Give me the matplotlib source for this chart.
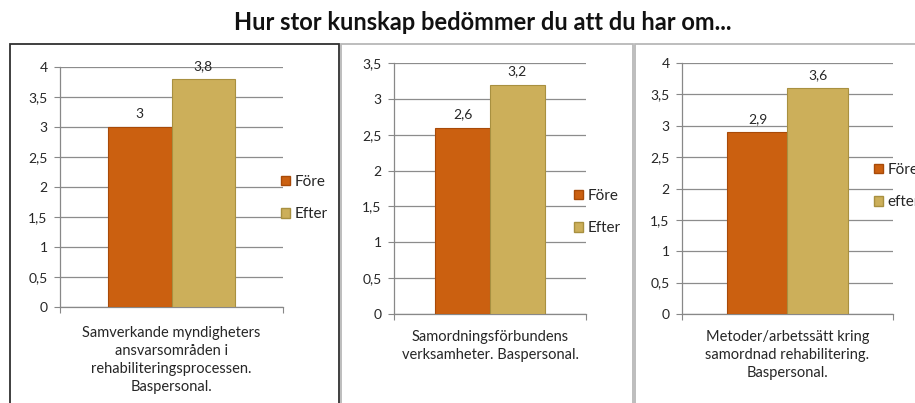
import matplotlib
matplotlib.use("Agg")
import matplotlib.pyplot as plt
from matplotlib.patches import Rectangle, Patch
from matplotlib.ticker import MultipleLocator, FuncFormatter

plt.rcParams["font.family"] = ["Lato", "DejaVu Sans"]

title = "Hur stor kunskap bedömmer du att du har om..."
categories = [
    "Samverkande myndigheters\nansvarsområden i\nrehabiliteringsprocessen.\nBaspersonal.",
    "Samordningsförbundens\nverksamheter. Baspersonal.",
    "Metoder/arbetssätt kring\nsamordnad rehabilitering.\nBaspersonal.",
]
fore = [3, 2.6, 2.9]
efter = [3.8, 3.2, 3.6]
y_max = [4, 3.5, 4]
legend_labels = [["Före", "Efter"], ["Före", "Efter"], ["Före", "efter"]]

W, H = 915, 403
FORE_COLOR = "#CB6010"
EFTER_COLOR = "#CCAF5A"
TEXT = "#262626"


def fx(px):
    return px / W


def fy(py):
    return 1 - py / H


def comma(v, pos):
    return ("%g" % v).replace(".", ",")


# layout in pixels: (frame left, frame right, frame color, axes left, axes right,
#                    axes top, axes bottom, legend x, legend y Före, label top)
panels = [
    (10, 339, "#303030", 60, 283, 67, 307, 281, 184, 326),
    (341, 633, "#B8B8B8", 394, 586, 63, 314, 574, 198, 330),
    (635, 925, "#B8B8B8", 682, 893, 63, 314, 874, 172, 330),
]

fig = plt.figure(figsize=(W / 100, H / 100), dpi=100)
fig.text(fx(483), fy(22), title, ha="center", va="center",
         fontsize=17, fontweight="bold", color="#111111")

for i, (fl, fr, fc, al, ar, at, ab, lx, ly, lt) in enumerate(panels):
    fig.patches.append(Rectangle((fx(fl), fy(410)), fx(fr - fl), fy(44) - fy(410),
                                 transform=fig.transFigure, fill=False,
                                 edgecolor=fc, linewidth=1.3))
    ax = fig.add_axes([fx(al), fy(ab), fx(ar - al), fy(at) - fy(ab)])
    w = 0.285
    b1 = ax.bar(0.5 - w / 2, fore[i], width=w, color=FORE_COLOR,
                edgecolor="#A84A08", linewidth=0.8, zorder=3)
    b2 = ax.bar(0.5 + w / 2, efter[i], width=w, color=EFTER_COLOR,
                edgecolor="#A89040", linewidth=0.8, zorder=3)
    for bars, vals in ((b1, fore), (b2, efter)):
        ax.annotate(comma(vals[i], 0), (bars[0].get_x() + w / 2, vals[i]),
                    xytext=(0, 5), textcoords="offset points",
                    ha="center", va="bottom", fontsize=10, color=TEXT)
    ax.set_xlim(0, 1)
    ax.set_ylim(0, y_max[i])
    ax.yaxis.set_major_locator(MultipleLocator(0.5))
    ax.yaxis.set_major_formatter(FuncFormatter(comma))
    ax.set_xticks([0, 1])
    ax.set_xticklabels([])
    ax.tick_params(axis="x", length=4, color="#888888", direction="out")
    ax.tick_params(axis="y", length=4, color="#888888", labelsize=10,
                   labelcolor=TEXT, pad=5)
    ax.grid(axis="y", color="#8C8C8C", linewidth=0.9, zorder=0)
    for s in ("top", "right"):
        ax.spines[s].set_visible(False)
    for s in ("left", "bottom"):
        ax.spines[s].set_color("#888888")
        ax.spines[s].set_linewidth(0.9)
    ax.set_facecolor("none")
    fig.text(fx((al + ar) / 2), fy(lt), categories[i], ha="center", va="top",
             fontsize=10.5, color=TEXT, linespacing=1.35)
    leg = ax.legend([Patch(facecolor=FORE_COLOR, edgecolor="#A84A08"),
                     Patch(facecolor=EFTER_COLOR, edgecolor="#A89040")],
                    legend_labels[i], loc="upper left",
                    bbox_to_anchor=(fx(lx), fy(ly - 9)),
                    bbox_transform=fig.transFigure, frameon=False,
                    handlelength=0.6, handleheight=0.6, handletextpad=0.3,
                    labelspacing=1.2, borderaxespad=0, borderpad=0,
                    fontsize=11)
    for t in leg.get_texts():
        t.set_color(TEXT)

fig.savefig("out.png", dpi=100)
